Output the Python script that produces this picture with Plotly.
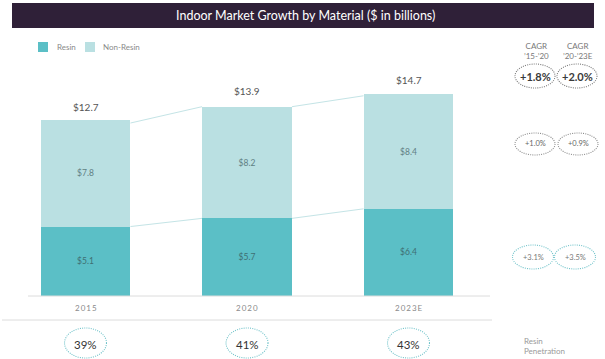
import plotly.graph_objects as go

years = ["2015", "2020", "2023E"]
resin = [5.1, 5.7, 6.4]
non_resin = [7.8, 8.2, 8.4]
totals = [12.7, 13.9, 14.7]
penetration = ["39%", "41%", "43%"]
cagr_headers = ["CAGR<br>’15-’20", "CAGR<br>’20-’23E"]
cagr_total = ["+1.8%", "+2.0%"]
cagr_non_resin = ["+1.0%", "+0.9%"]
cagr_resin = ["+3.1%", "+3.5%"]

W, H = 605, 359
RESIN_C = "#5bbfc6"
NONRESIN_C = "#bae0e2"
FONT = "Lato"
BAR_W = 0.557

def px(x):
    return x / W

def py(y):
    return 1 - y / H

xs = list(range(len(years)))

fig = go.Figure()
fig.add_trace(go.Bar(
    x=xs, y=resin, width=BAR_W, name="Resin",
    marker=dict(color=RESIN_C, line=dict(width=0)),
    text=[f"${v}" for v in resin], textposition="inside",
    insidetextanchor="middle", textangle=0,
    textfont=dict(family=FONT, size=8.5, color="#3f6f73"),
    showlegend=False, hoverinfo="skip"))
fig.add_trace(go.Bar(
    x=xs, y=non_resin, width=BAR_W, name="Non-Resin",
    marker=dict(color=NONRESIN_C, line=dict(width=0)),
    text=[f"${v}" for v in non_resin], textposition="inside",
    insidetextanchor="middle", textangle=0,
    textfont=dict(family=FONT, size=8.5, color="#5f7f82"),
    showlegend=False, hoverinfo="skip"))

for i in range(len(years) - 1):
    for series in (totals, resin):
        fig.add_trace(go.Scatter(
            x=[xs[i] + BAR_W / 2, xs[i + 1] - BAR_W / 2],
            y=[series[i], series[i + 1]],
            mode="lines", line=dict(color="#c4e4e6", width=1),
            showlegend=False, hoverinfo="skip"))

annotations = []

def ann(x, y, text, size, color, xref="paper", yref="paper", xanchor="center",
        align="center", **kw):
    d = dict(x=x, y=y, xref=xref, yref=yref, text=text, showarrow=False,
             xanchor=xanchor, yanchor="middle", align=align,
             font=dict(family=FONT, size=size, color=color))
    d.update(kw)
    annotations.append(d)

for i, t in enumerate(totals):
    ann(xs[i], t, f"${t}", 10, "#555555", xref="x", yref="y", yshift=16)
for i, yr in enumerate(years):
    ann(xs[i], py(308), "\u2009".join(yr), 8, "#8a8a8a", xref="x")
for i, p in enumerate(penetration):
    ann(xs[i], py(344), p, 11.5, "#333333", xref="x")

ann(px(522), py(346), "Resin<br>Penetration", 8, "#9a9a9a", xanchor="left", align="left")
ann(px(305), py(15.5), "Indoor Market Growth by Material ($ in billions)", 12.5, "#ffffff")
ann(px(55), py(47), "Resin", 8, "#8a8a8a", xanchor="left")
ann(px(101), py(47), "Non-Resin", 8, "#8a8a8a", xanchor="left")

cagr_x = [536, 578]
for j, hdr in enumerate(cagr_headers):
    ann(px(cagr_x[j]), py(51), hdr, 8, "#777777")

shapes = []
shapes.append(dict(type="rect", xref="paper", yref="paper",
                   x0=px(12), x1=px(594), y0=py(3), y1=py(28),
                   fillcolor="#2f2038", line=dict(width=0), layer="above"))
shapes.append(dict(type="rect", xref="paper", yref="paper",
                   x0=px(38), x1=px(48), y0=py(42), y1=py(52),
                   fillcolor=RESIN_C, line=dict(width=0), layer="above"))
shapes.append(dict(type="rect", xref="paper", yref="paper",
                   x0=px(85), x1=px(95), y0=py(42), y1=py(52),
                   fillcolor=NONRESIN_C, line=dict(width=0), layer="above"))
shapes.append(dict(type="line", xref="paper", yref="y",
                   x0=px(28), x1=px(490), y0=0, y1=0,
                   line=dict(color="#dcdcdc", width=1), layer="above"))
shapes.append(dict(type="line", xref="paper", yref="paper",
                   x0=px(2), x1=px(492), y0=py(320), y1=py(320),
                   line=dict(color="#dcdcdc", width=1), layer="above"))

def ellipse(cx, cy, w, h, color):
    return dict(type="circle", xref="paper", yref="paper",
                x0=px(cx - w / 2), x1=px(cx + w / 2),
                y0=py(cy - h / 2), y1=py(cy + h / 2),
                line=dict(color=color, width=1.1, dash="1px,1.2px"), layer="above")

for i in xs:
    cx = 85.5 + 161.5 * i
    shapes.append(ellipse(cx, 343, 42, 30, "#6fc2c9"))

rows = [
    (cagr_total, 76, [535, 577], 40, 24, "#7a7a7a", 11, "#3a3a3a", True),
    (cagr_non_resin, 144, [535, 578], 40, 22, "#8a8a8a", 7.5, "#666666", False),
    (cagr_resin, 257, [533, 575], 41, 24, "#6fc2c9", 7.5, "#777777", False),
]
for vals, cy, cxs, w, h, lc, fs, fc, bold in rows:
    for v, cx in zip(vals, cxs):
        shapes.append(ellipse(cx, cy, w, h, lc))
        ann(px(cx), py(cy), f"<b>{v}</b>" if bold else v, fs, fc)

fig.update_layout(
    width=W, height=H, barmode="stack",
    margin=dict(l=0, r=0, t=0, b=0),
    paper_bgcolor="white", plot_bgcolor="rgba(0,0,0,0)",
    xaxis=dict(range=[-85.5 / 161.5, (W - 85.5) / 161.5], visible=False, fixedrange=True),
    yaxis=dict(range=[-(H - 296) / 13.62, 296 / 13.62], visible=False, fixedrange=True),
    annotations=annotations, shapes=shapes,
    uniformtext=dict(minsize=6, mode="show"),
)

fig.write_html("out.html", config={"displayModeBar": False},
               post_script="document.body.style.margin='0';document.body.style.overflow='hidden';")
